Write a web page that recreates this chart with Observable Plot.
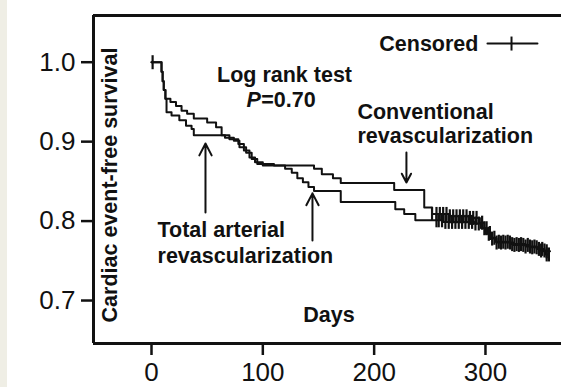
<!DOCTYPE html>
<html><head><meta charset="utf-8">
<script src="https://cdn.jsdelivr.net/npm/d3@7"></script>
<script src="https://cdn.jsdelivr.net/npm/@observablehq/plot@0.6"></script>
<style>
html,body{margin:0;padding:0;}
body{width:561px;height:387px;overflow:hidden;background:linear-gradient(to right,#efeee5 0,#efeee5 7px,#fff 7px);}
#chart svg{overflow:visible;}
#chart svg [aria-label^="x-axis"] line,#chart svg [aria-label^="x-axis"] path,
#chart svg [aria-label^="y-axis"] line,#chart svg [aria-label^="y-axis"] path{stroke-width:2.5px;stroke:#111;}
</style></head><body><div id="chart"></div>
<script>
// ---- data ----
const xTicks = [0, 100, 200, 300];
const yTicks = [0.7, 0.8, 0.9, 1.0];

// Conventional revascularization (upper curve)
const convDays = [0, 9, 10, 11, 12.5, 17, 22, 27, 32, 38, 50, 58, 63, 70, 78, 83, 88, 93, 100, 146, 153, 163, 170, 218, 245, 252, 268, 285, 295, 299, 302, 305, 309, 322, 336, 346, 352, 358];
const convSurv = [1.0, .988, .976, .965, .954, .950, .945, .939, .935, .929, .924, .918, .908, .903, .897, .889, .880, .874, .870, .866, .859, .854, .848, .839, .817, .809, .806, .804, .798, .791, .785, .779, .774, .771, .768, .765, .762, .762];
const convCensor = [1, 252, 256, 259, 262, 265, 268, 271, 274, 277, 280, 283, 286, 289, 292, 297, 301, 304, 308, 312, 316, 320, 324, 328, 332, 336, 340, 344, 348, 351, 355];

// Total arterial revascularization (lower curve)
const tarDays = [0, 9, 10, 11, 12.5, 13.5, 18, 25, 31, 36, 38, 66, 74, 79, 85, 90, 95, 110, 120, 126, 131, 136, 141, 146, 170, 219, 227, 237, 262, 290, 296, 300, 304, 310, 325, 340, 348, 354, 357];
const tarSurv = [1.0, .988, .976, .965, .954, .937, .933, .927, .920, .916, .908, .905, .901, .893, .886, .878, .872, .870, .866, .861, .854, .849, .843, .838, .824, .815, .809, .801, .799, .797, .791, .784, .778, .773, .770, .767, .763, .758, .758];
const tarCensor = [256, 258, 261, 264, 267, 270, 273, 276, 279, 282, 285, 288, 291, 294, 299, 303, 306, 310, 314, 318, 322, 326, 330, 334, 338, 342, 346, 350, 353, 355, 357];

const yAxisTitle = "Cardiac event-free survival";
const xAxisTitle = "Days";
const legendLabel = "Censored";

// annotation anchors in data units (days, survival)
const centerTexts = ["Log rank test", xAxisTitle];
const centerX = [119.5, 159.4];
const centerY = [0.9748, 0.6735];
const startTexts = ["Conventional", "revascularization", "Total arterial", "revascularization"];
const startX = [185, 185, 5.4, 5.4];
const startY = [0.9291, 0.8977, 0.7797, 0.7478];
const pValueParts = ["P", "=0.70"];
const pValueX = [85.3, 98.6];
const pValueY = 0.9433;

const arrowX = [48.5, 144.6, 229];
const arrowFrom = [0.8108, 0.7757, 0.8863];
const arrowTo = [0.8976, 0.8349, 0.8485];

const legendTextX = 293.7;
const legendX = [301.8, 346.7];
const legendTickX = 323.4;
const legendY = 1.0235;
const legendTextY = 1.0147;

const yTitleX = -37.5, yTitleY = 0.8454;

const xDomain = [-52.1, 368.3];
const yDomain = [0.6459, 1.0588];

// ---- build tables ----
const stepAt = (days, surv, d) => { let v = surv[0]; for (let i = 0; i < days.length; i++) if (days[i] <= d) v = surv[i]; return v; };
const curves = [
  ...convDays.map((d, i) => ({group: "conv", day: d, s: convSurv[i]})),
  ...tarDays.map((d, i) => ({group: "tar", day: d, s: tarSurv[i]}))
];
const censors = [
  ...convCensor.map(d => ({day: d, s: stepAt(convDays, convSurv, d)})),
  ...tarCensor.map(d => ({day: d, s: stepAt(tarDays, tarSurv, d)}))
];
const centerLabels = centerTexts.map((t, i) => ({t, x: centerX[i], y: centerY[i]}));
const startLabels = startTexts.map((t, i) => ({t, x: startX[i], y: startY[i]}));
const arrows = arrowX.map((x, i) => ({x, y1: arrowFrom[i], y2: arrowTo[i]}));

const vbar = {draw(ctx, size) { ctx.moveTo(0, -7); ctx.lineTo(0, 7); }};
const ink = "#111";
const font = 21.5;
const txt = {x: "x", y: "y", text: "t", lineAnchor: "bottom", fontSize: font, fontWeight: "bold", fill: ink};

const chart = Plot.plot({
  width: 561, height: 387,
  marginLeft: 93, marginRight: 0, marginTop: 15, marginBottom: 44,
  style: {fontFamily: "'Liberation Sans', Arial, sans-serif", fontSize: "26px", color: ink, background: "transparent"},
  x: {domain: xDomain, ticks: xTicks, tickSize: 12, tickPadding: 7, label: null},
  y: {domain: yDomain, ticks: yTicks, tickFormat: d3.format(".1f"), tickSize: 12, tickPadding: 6, label: null},
  marks: [
    Plot.ruleX([xDomain[0]], {stroke: ink, strokeWidth: 3}),
    Plot.ruleY([yDomain[0], yDomain[1]], {stroke: ink, strokeWidth: 3}),
    Plot.line(curves, {x: "day", y: "s", z: "group", curve: "step-after", stroke: ink, strokeWidth: 2}),
    Plot.dot(censors, {x: "day", y: "s", symbol: vbar, fill: "none", stroke: ink, strokeWidth: 2.2, r: 7}),
    Plot.arrow(arrows, {x1: "x", x2: "x", y1: "y1", y2: "y2", stroke: ink, strokeWidth: 2, headLength: 10, headAngle: 55}),
    Plot.text(centerLabels, {...txt, textAnchor: "middle"}),
    Plot.text(startLabels, {...txt, textAnchor: "start"}),
    Plot.text([{t: pValueParts[0], x: pValueX[0], y: pValueY}], {...txt, textAnchor: "start", fontStyle: "italic"}),
    Plot.text([{t: pValueParts[1], x: pValueX[1], y: pValueY}], {...txt, textAnchor: "start"}),
    Plot.text([{t: legendLabel, x: legendTextX, y: legendTextY}], {...txt, textAnchor: "end"}),
    Plot.text([{t: yAxisTitle, x: yTitleX, y: yTitleY}], {x: "x", y: "y", text: "t", rotate: -90, fontSize: font, fontWeight: "bold", fill: ink}),
    Plot.line([{x: legendX[0], y: legendY}, {x: legendX[1], y: legendY}], {x: "x", y: "y", stroke: ink, strokeWidth: 2}),
    Plot.dot([{x: legendTickX, y: legendY}], {x: "x", y: "y", symbol: vbar, fill: "none", stroke: ink, strokeWidth: 2, r: 6})
  ]
});
document.getElementById("chart").appendChild(chart);
</script></body></html>
